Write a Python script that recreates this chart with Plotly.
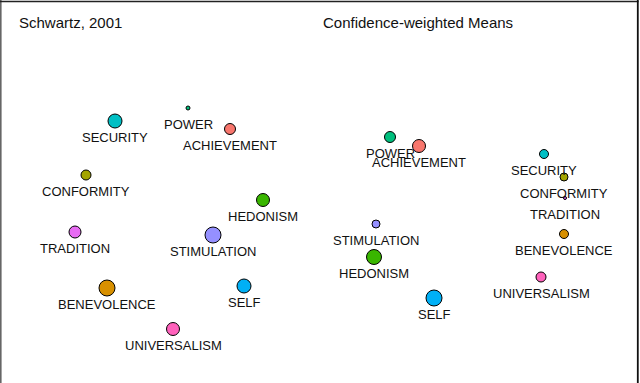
import plotly.graph_objects as go

values = ["ACHIEVEMENT", "BENEVOLENCE", "CONFORMITY", "HEDONISM", "POWER",
          "SECURITY", "SELF", "STIMULATION", "TRADITION", "UNIVERSALISM"]
colors = ["#F8766D", "#D89000", "#A3A500", "#39B600", "#00BF7D",
          "#00BFC4", "#00B0F6", "#9590FF", "#E76BF3", "#FF62BC"]

# Panel 1: Schwartz, 2001 (2-D configuration coordinates)
s_x = [230, 107, 86, 263, 188, 115, 244, 213, 75, 173]
s_y = [254, 95, 208, 183, 275, 262, 97, 148, 151, 54]
s_size = [11, 16, 10, 13, 4, 14, 14, 16, 12, 13]

# Panel 2: Confidence-weighted Means
c_x = [99, 244, 244, 54, 70, 224, 114, 56, 245, 221]
c_y = [237, 149, 206, 126, 246, 229, 85, 159, 185, 106]
c_size = [13, 9, 8, 15, 11, 9, 16, 8, 3, 10]

panel_titles = ["Schwartz, 2001", "Confidence-weighted Means"]

fig = go.Figure()
panels = [(s_x, s_y, s_size, "x", "y"), (c_x, c_y, c_size, "x2", "y2")]
for px, py, ps, xa, ya in panels:
    fig.add_trace(go.Scatter(
        x=px, y=py, mode="markers", xaxis=xa, yaxis=ya,
        marker=dict(size=ps, color=colors, opacity=1,
                    line=dict(color="black", width=1)),
        hoverinfo="text", text=values, showlegend=False))
    for lab, xv, yv in zip(values, px, py):
        fig.add_annotation(x=xv, y=yv, xref=xa, yref=ya, text=lab,
                           showarrow=False, yshift=-16.5,
                           font=dict(family="Liberation Sans, Arial", size=13, color="#111"))

ax = dict(visible=False, showgrid=False, zeroline=False, fixedrange=True)
fig.update_layout(
    width=640, height=383,
    margin=dict(l=0, r=0, t=0, b=0),
    paper_bgcolor="white", plot_bgcolor="white",
    xaxis=dict(ax, domain=[0, 0.5], range=[0, 320]),
    yaxis=dict(ax, domain=[0, 1], range=[0, 383]),
    xaxis2=dict(ax, domain=[0.5, 1], range=[0, 320]),
    yaxis2=dict(ax, domain=[0, 1], range=[0, 383], anchor="x2"),
    showlegend=False,
)

fig.add_annotation(x=17 / 640, y=1 - 22.5 / 383, xref="paper", yref="paper",
                   text=panel_titles[0], showarrow=False, xanchor="left", yanchor="middle",
                   font=dict(family="Liberation Sans, Arial", size=15, color="#111"))
fig.add_annotation(x=321 / 640, y=1 - 22.5 / 383, xref="paper", yref="paper",
                   text=panel_titles[1], showarrow=False, xanchor="left", yanchor="middle",
                   font=dict(family="Liberation Sans, Arial", size=15, color="#111"))

fig.add_shape(type="line", xref="paper", yref="paper", x0=0.8 / 640, x1=0.8 / 640,
              y0=0, y1=1, line=dict(color="#666", width=1.6))
fig.add_shape(type="line", xref="paper", yref="paper", x0=0, x1=638.5 / 640,
              y0=1 - 1.5 / 383, y1=1 - 1.5 / 383, line=dict(color="#222", width=1.6))
fig.add_shape(type="line", xref="paper", yref="paper", x0=637.8 / 640, x1=637.8 / 640,
              y0=0, y1=1, line=dict(color="#111", width=1.8))

fig.write_html("out.html", config={"displayModeBar": False},
               post_script="document.body.style.margin='0';document.body.style.overflow='hidden';")
